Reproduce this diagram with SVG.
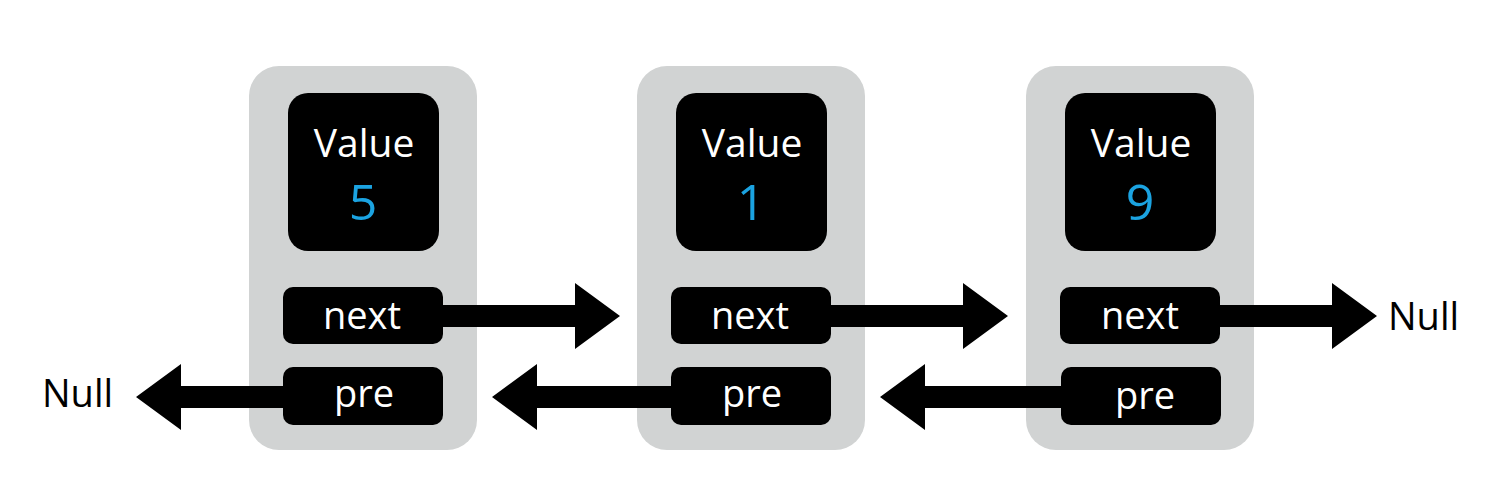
<svg xmlns="http://www.w3.org/2000/svg" width="1488" height="498" viewBox="0 0 1488 498">
<style>
.card{fill:#d1d3d3}
.blk{fill:#000}
.t{font-family:"Open Sans","Noto Sans",sans-serif;text-anchor:middle}
.w{fill:#fff}
.val{fill:#1ba3e1;font-size:50px}
.lbl{font-size:39px}
.fld{font-size:38px}
.null{font-family:"Open Sans","Noto Sans",sans-serif;font-size:38px;fill:#000}
.arr{fill:#000}
</style>
<rect width="1488" height="498" fill="#fff"/>
<g id="node1">
<rect class="card" x="249" y="66" width="228" height="384" rx="30"/>
<rect class="blk" x="288" y="93" width="151" height="158" rx="20"/>
<text class="t w lbl" x="364" y="157">Value</text>
<text class="t val" x="363" y="220">5</text>
</g>
<g id="node2">
<rect class="card" x="637" y="66" width="228" height="384" rx="30"/>
<rect class="blk" x="676" y="93" width="151" height="158" rx="20"/>
<text class="t w lbl" x="752" y="157">Value</text>
<text class="t val" x="751" y="220">1</text>
</g>
<g id="node3">
<rect class="card" x="1026" y="66" width="228" height="384" rx="30"/>
<rect class="blk" x="1065" y="93" width="151" height="158" rx="20"/>
<text class="t w lbl" x="1141" y="157">Value</text>
<text class="t val" x="1140" y="220">9</text>
</g>
<g id="connectors">
<polygon class="arr" points="443,305 575,305 575,283 620,316 575,349 575,327 443,327"/>
<polygon class="arr" points="831,305 963,305 963,283 1008,316 963,349 963,327 831,327"/>
<polygon class="arr" points="1219,305 1332,305 1332,283 1377,316 1332,349 1332,327 1219,327"/>
<polygon class="arr" points="285,386 181,386 181,364 136,397 181,430 181,408 285,408"/>
<polygon class="arr" points="673,386 537,386 537,364 492,397 537,430 537,408 673,408"/>
<polygon class="arr" points="1061,386 925,386 925,364 880,397 925,430 925,408 1061,408"/>
</g>
<g id="node1-fields">
<rect class="blk" x="283" y="287" width="160" height="57" rx="10"/>
<text class="t w fld" x="362" y="329">next</text>
<rect class="blk" x="283" y="367" width="160" height="58" rx="10"/>
<text class="t w fld" x="364" y="407">pre</text>
</g>
<g id="node2-fields">
<rect class="blk" x="671" y="287" width="160" height="57" rx="10"/>
<text class="t w fld" x="750" y="329">next</text>
<rect class="blk" x="671" y="367" width="160" height="58" rx="10"/>
<text class="t w fld" x="752" y="407">pre</text>
</g>
<g id="node3-fields">
<rect class="blk" x="1060" y="287" width="160" height="57" rx="10"/>
<text class="t w fld" x="1140" y="329">next</text>
<rect class="blk" x="1061" y="367" width="160" height="58" rx="10"/>
<text class="t w fld" x="1145" y="409">pre</text>
</g>
<g id="null-left"><text class="null" x="42" y="407">Null</text></g>
<g id="null-right"><text class="null" x="1388" y="330">Null</text></g>
</svg>
